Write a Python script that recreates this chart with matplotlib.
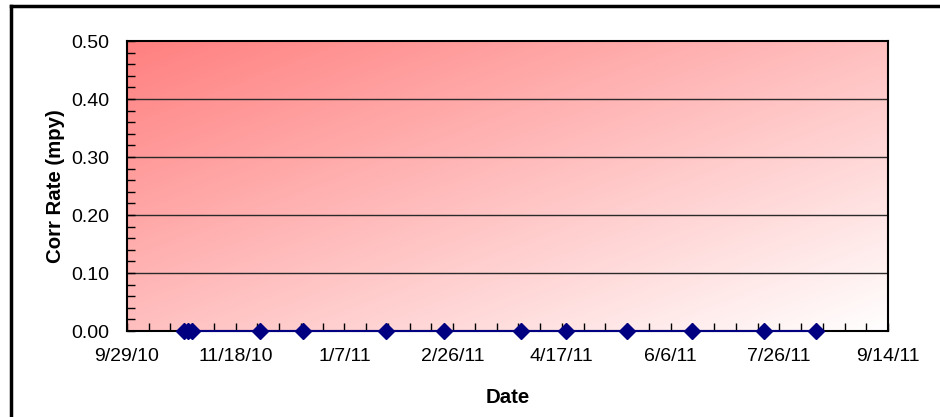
import matplotlib as mpl
mpl.use('Agg')
import matplotlib.pyplot as plt
import matplotlib.dates as mdates
import numpy as np
from datetime import datetime

# sample dates and corrosion rate readings
dates = ["2010-10-25", "2010-10-27", "2010-10-29", "2010-11-29", "2010-12-19",
         "2011-01-26", "2011-02-22", "2011-03-29", "2011-04-19", "2011-05-17",
         "2011-06-16", "2011-07-19", "2011-08-12"]
corr_rate = [0.0, 0.0, 0.0, 0.0, 0.0, 0.0, 0.0, 0.0, 0.0, 0.0, 0.0, 0.0, 0.0]

x_start = datetime(2010, 9, 29)
x_end = datetime(2011, 9, 14)
y_ticks = [0.0, 0.1, 0.2, 0.3, 0.4, 0.5]

plt.rcParams['font.family'] = ['Liberation Sans', 'DejaVu Sans']

fig = plt.figure(figsize=(9.4, 4.17), dpi=100)
ax = fig.add_axes([127/940, 1-331/417, 761/940, 290/417])

x = [datetime.strptime(d, "%Y-%m-%d") for d in dates]
x0 = mdates.date2num(x_start)
x1 = mdates.date2num(x_end)

# diagonal red->white gradient background (red at top-left)
n = 200
u = np.linspace(0, 1, n)
uu, vv = np.meshgrid(u, u)
t = np.clip((uu + vv) / 2, 0, 1)
red = np.array([1.0, 0.50, 0.50])
white = np.array([1.0, 1.0, 1.0])
grad = red[None, None, :] * (1 - t[..., None]) + white[None, None, :] * t[..., None]
ax.imshow(grad, extent=[x0, x1, 0.0, 0.5], aspect='auto', zorder=0, origin='upper')

ax.set_xlim(x0, x1)
ax.set_ylim(0, 0.5)

for yv in y_ticks[1:-1]:
    ax.axhline(yv, color='#2a2a2a', lw=1.0, zorder=1)

ax.plot(mdates.date2num(x), corr_rate, color='#000080', lw=1.5, marker='D',
        markersize=8, markerfacecolor='#000080', markeredgecolor='#000080',
        zorder=3, clip_on=False)

ax.set_yticks(y_ticks)
ax.set_yticklabels([f"{v:.2f}" for v in y_ticks])
ax.set_yticks(np.arange(0, 0.5001, 0.02), minor=True)

major_x = [x0 + 50 * i for i in range(8)]
ax.set_xticks(major_x)
ax.set_xticklabels([f"{d.month}/{d.day}/{d.strftime('%y')}" for d in mdates.num2date(major_x)])
ax.set_xticks([x0 + 10 * i for i in range(36)], minor=True)

ax.tick_params(axis='both', which='both', direction='in', labelsize=14, width=1, color='black')
ax.tick_params(axis='both', which='major', length=6)
ax.tick_params(axis='both', which='minor', length=6)
ax.tick_params(axis='x', pad=12)
ax.tick_params(axis='y', pad=13)

for sp in ax.spines.values():
    sp.set_linewidth(1.5)
    sp.set_color('black')

ax.set_xlabel("Date", fontsize=14.7, fontweight='bold', labelpad=17)
ax.set_ylabel("Corr Rate (mpy)", fontsize=14.7, fontweight='bold', labelpad=4)

# outer frame lines
fig.add_artist(plt.Line2D([11/940, 11/940], [0, 1-6/417], color='black', lw=2.5))
fig.add_artist(plt.Line2D([11/940, 1], [1-6/417, 1-6/417], color='black', lw=2.5))

fig.savefig("out.png", dpi=100)
